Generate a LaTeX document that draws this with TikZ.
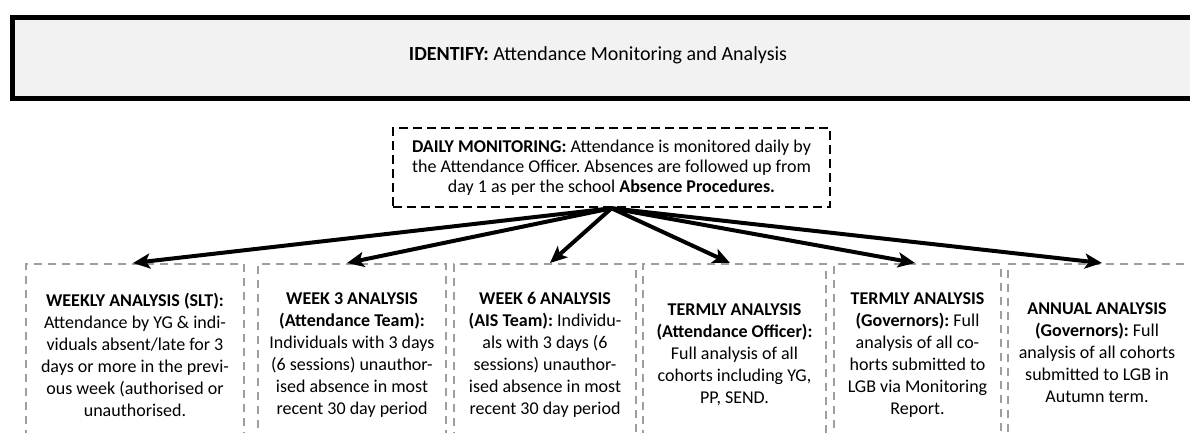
\documentclass[tikz,border=0pt]{standalone}
\usepackage{fontspec}
\setmainfont{Carlito}
\usetikzlibrary{arrows.meta}
\frenchspacing
\begin{document}
\begin{tikzpicture}[x=1pt,y=-1pt,
  font=\fontsize{18}{22}\selectfont,
  abox/.style={draw=black!38, line width=2pt, dash pattern=on 8pt off 6pt,
    minimum height=182pt, anchor=north west, align=center, inner sep=0pt},
  btext/.style={align=center, inner sep=0pt},
  conn/.style={line width=4pt, -{Stealth[length=17pt,width=15pt,inset=4pt]}}]
\clip (0,0) rectangle (1190,432);
\useasboundingbox (0,0) rectangle (1190,432);
% top banner
\node[draw, line width=5pt, fill=black!5, minimum width=1200pt, minimum height=81pt,
  anchor=north west, inner sep=0pt] (identify) at (9.5,14.5) {};
\node[btext, font=\fontsize{20}{24}\selectfont] (identifytext) at (598,55) {\textbf{IDENTIFY:} Attendance Monitoring and Analysis};
% daily monitoring
\node[draw, line width=2.5pt, dash pattern=on 9pt off 5pt, minimum width=437pt, minimum height=79pt,
  align=center, inner sep=0pt, font=\fontsize{18}{20}\selectfont] (daily) at (611.5,167.5)
  {\textbf{DAILY MONITORING:} Attendance is monitored daily by\\
   the Attendance Officer. Absences are followed up from\\
   day 1 as per the school \textbf{Absence Procedures.}};
% analysis boxes
\node[abox, minimum width=218pt] (box1) at (25,263)
  {\textbf{WEEKLY ANALYSIS (SLT):}\\ Attendance by YG \& indi-\\ viduals absent/late for 3\\ days or more in the previ-\\ ous week (authorised or\\ unauthorised.};
\node[abox, minimum width=188pt] (box2) at (257,263)
  {\textbf{WEEK 3 ANALYSIS}\\ \textbf{(Attendance Team):}\\ Individuals with 3 days\\ (6 sessions) unauthor-\\ ised absence in most\\ recent 30 day period};
\node[abox, minimum width=182pt] (box3) at (453,263)
  {\textbf{WEEK 6 ANALYSIS}\\ \textbf{(AIS Team):} Individu-\\ als with 3 days (6\\ sessions) unauthor-\\ ised absence in most\\ recent 30 day period};
\node[abox, minimum width=183pt] (box4) at (642,263)
  {\textbf{TERMLY ANALYSIS}\\ \textbf{(Attendance Officer):}\\ Full analysis of all\\ cohorts including YG,\\ PP, SEND.};
\node[abox, minimum width=167pt] (box5) at (833,263)
  {\textbf{TERMLY ANALYSIS}\\ \textbf{(Governors):} Full\\ analysis of all co-\\ horts submitted to\\ LGB via Monitoring\\ Report.};
\node[abox, minimum width=200pt] (box6) at (1007,263) {};
\node[btext] (box6text) at (1097,353)
  {\textbf{ANNUAL ANALYSIS}\\ \textbf{(Governors):} Full\\ analysis of all cohorts\\ submitted to LGB in\\ Autumn term.};
% connectors
\draw[conn] (daily.south) -- ([xshift=108pt]box1.north west);
\draw[conn] (daily.south) -- ([xshift=90pt]box2.north west);
\draw[conn] (daily.south) -- ([xshift=97pt]box3.north west);
\draw[conn] (daily.south) -- ([xshift=88pt]box4.north west);
\draw[conn] (daily.south) -- ([xshift=82pt]box5.north west);
\draw[conn] (daily.south) -- ([xshift=95pt]box6.north west);
\end{tikzpicture}
\end{document}
